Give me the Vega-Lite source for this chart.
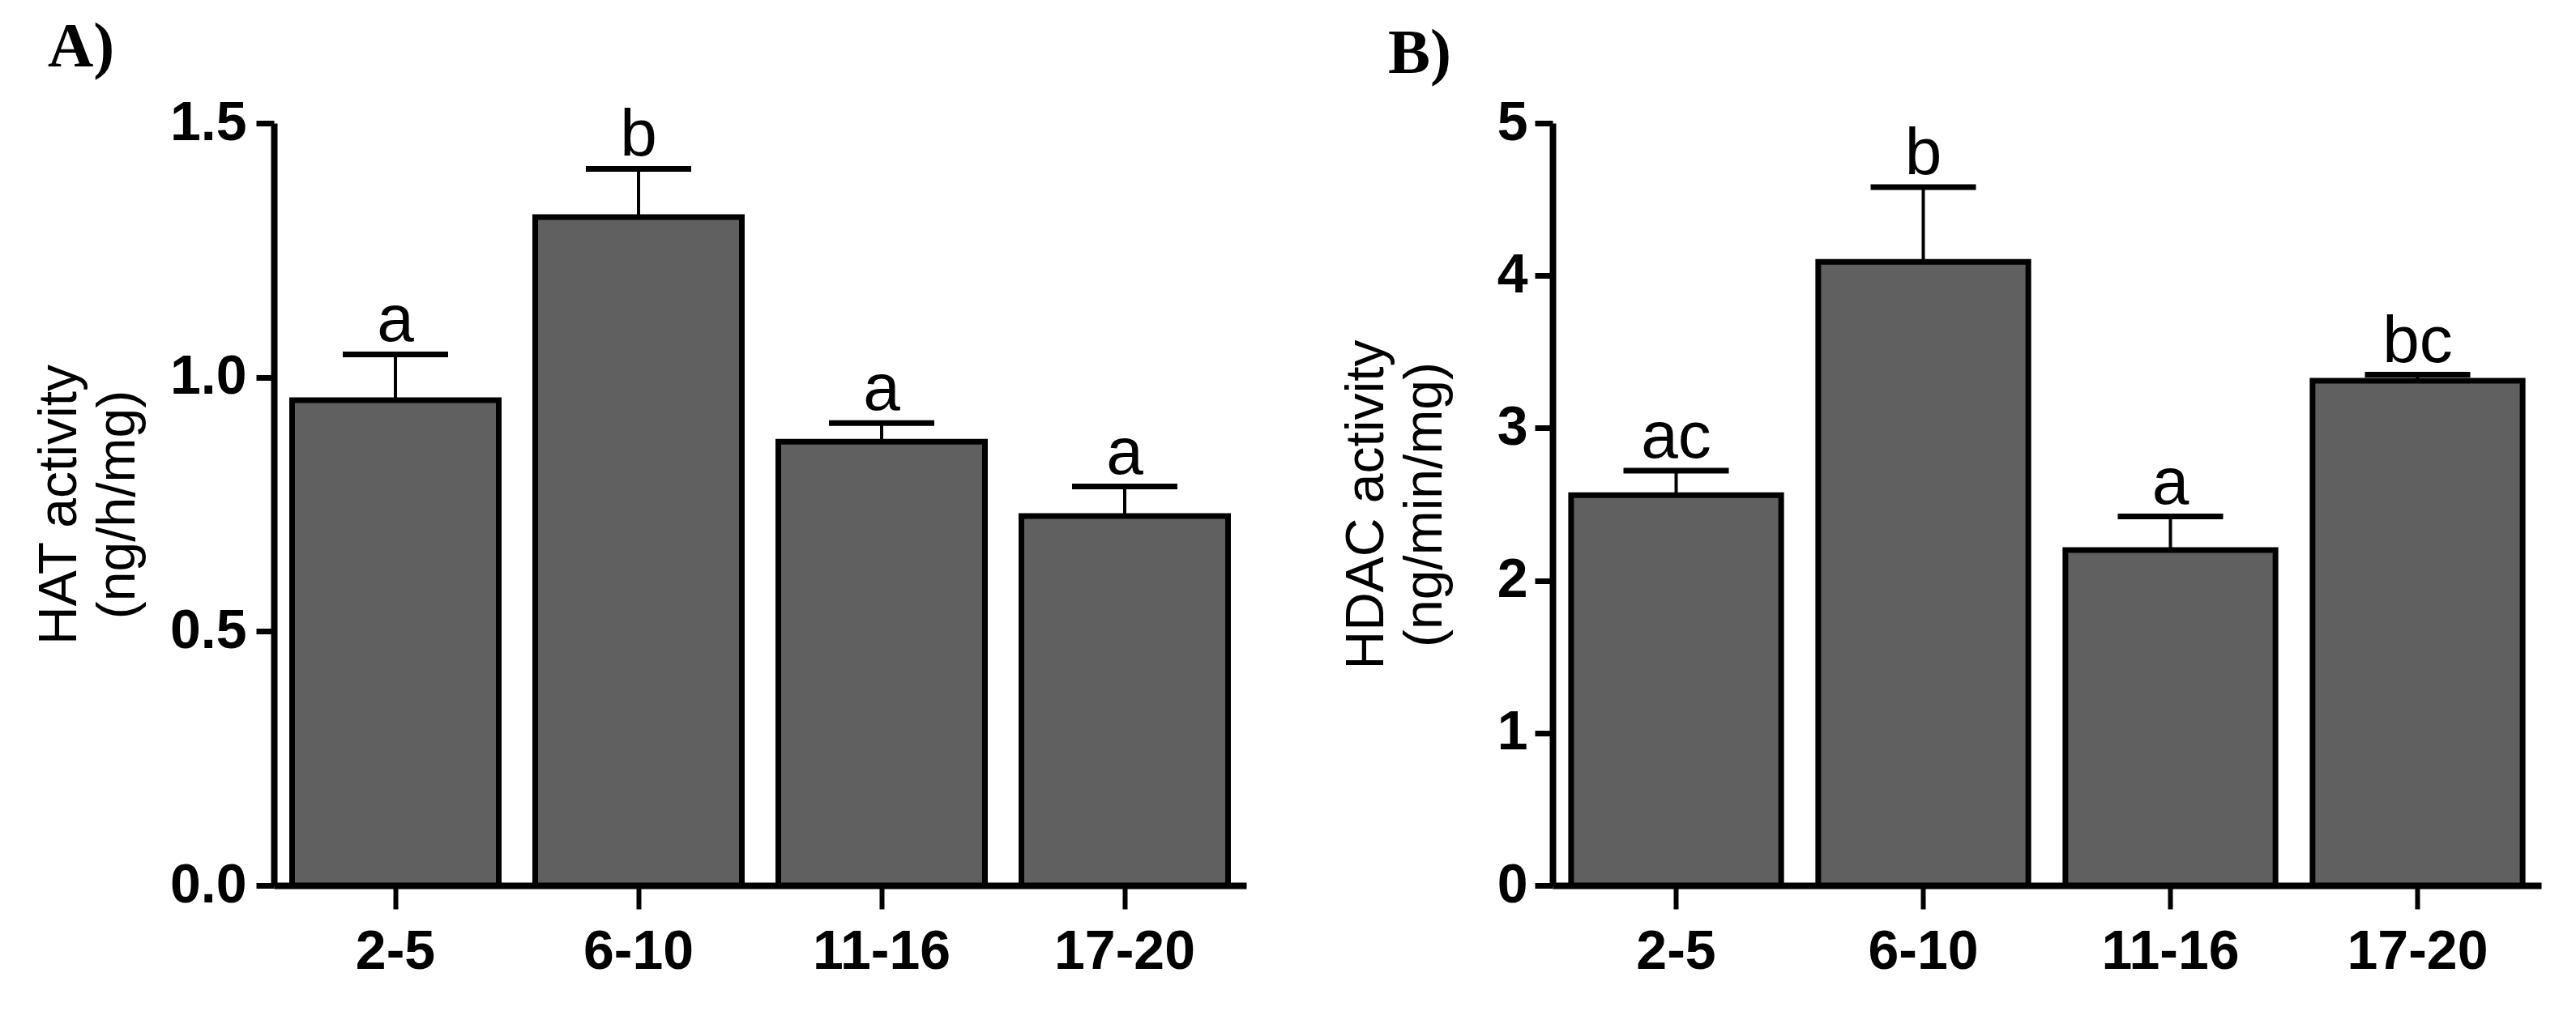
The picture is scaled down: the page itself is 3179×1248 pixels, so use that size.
{
  "$schema": "https://vega.github.io/schema/vega-lite/v6.json",
  "background": "white",
  "padding": {"left": 40, "top": 20, "right": 5, "bottom": 5},
  "bounds": "flush",
  "spacing": 378,
  "config": {
    "view": {"stroke": null},
    "axis": {
      "grid": false,
      "domainColor": "black",
      "domainWidth": 8,
      "tickColor": "black",
      "tickWidth": 7,
      "labelColor": "black",
      "labelFont": "Liberation Sans",
      "labelFontWeight": "bold",
      "labelLimit": 0,
      "titleColor": "black",
      "titleFont": "Liberation Sans",
      "titleFontWeight": "normal"
    },
    "axisX": {"tickSize": 29, "tickWidth": 6, "labelFontSize": 68, "labelPadding": 19, "labelAngle": 0, "title": null},
    "axisY": {"tickSize": 22, "labelFontSize": 68, "titleFontSize": 66, "titleLineHeight": 72},
    "title": {"anchor": "start", "frame": "group", "font": "Liberation Serif", "fontSize": 78, "fontWeight": "bold", "color": "black", "offset": 20}
  },
  "hconcat": [
    {
      "width": 1200,
      "height": 941,
      "title": {"text": "A)", "dx": -279},
      "data": {
        "values": [
          {"group": "2-5", "mean": 0.955, "upper": 1.045, "letter": "a"},
          {"group": "6-10", "mean": 1.315, "upper": 1.41, "letter": "b"},
          {"group": "11-16", "mean": 0.873, "upper": 0.91, "letter": "a"},
          {"group": "17-20", "mean": 0.727, "upper": 0.785, "letter": "a"}
        ]
      },
      "encoding": {
        "x": {
          "field": "group",
          "type": "nominal",
          "sort": null,
          "scale": {"paddingInner": 0.15, "paddingOuter": 0.075},
          "axis": {}
        }
      },
      "layer": [
        {
          "mark": {"type": "bar", "fill": "#606060", "stroke": "black", "strokeWidth": 7},
          "encoding": {
            "y": {
              "field": "mean",
              "type": "quantitative",
              "scale": {"domain": [0, 1.5], "nice": false},
              "axis": {
                "values": [0, 0.5, 1, 1.5],
                "format": ".1f",
                "labelPadding": 12,
                "title": ["HAT activity", "(ng/h/mg)"],
                "titlePadding": 30
              }
            }
          }
        },
        {
          "mark": {"type": "rule", "color": "black", "strokeWidth": 4},
          "encoding": {"y": {"field": "mean", "type": "quantitative"}, "y2": {"field": "upper"}}
        },
        {
          "mark": {"type": "tick", "color": "black", "opacity": 1, "thickness": 7, "size": 130},
          "encoding": {"y": {"field": "upper", "type": "quantitative"}}
        },
        {
          "mark": {"type": "text", "baseline": "alphabetic", "dy": -16, "fontSize": 82, "color": "black", "font": "Liberation Sans"},
          "encoding": {"y": {"field": "upper", "type": "quantitative"}, "text": {"field": "letter"}}
        }
      ]
    },
    {
      "width": 1220,
      "height": 941,
      "title": {"text": "B)", "dx": -203, "dy": 8},
      "data": {
        "values": [
          {"group": "2-5", "mean": 2.56, "upper": 2.72, "letter": "ac"},
          {"group": "6-10", "mean": 4.09, "upper": 4.58, "letter": "b"},
          {"group": "11-16", "mean": 2.2, "upper": 2.42, "letter": "a"},
          {"group": "17-20", "mean": 3.31, "upper": 3.35, "letter": "bc"}
        ]
      },
      "encoding": {
        "x": {
          "field": "group",
          "type": "nominal",
          "sort": null,
          "scale": {"paddingInner": 0.15, "paddingOuter": 0.075},
          "axis": {}
        }
      },
      "layer": [
        {
          "mark": {"type": "bar", "fill": "#606060", "stroke": "black", "strokeWidth": 7},
          "encoding": {
            "y": {
              "field": "mean",
              "type": "quantitative",
              "scale": {"domain": [0, 5], "nice": false},
              "axis": {
                "values": [0, 1, 2, 3, 4, 5],
                "format": "d",
                "labelPadding": 9,
                "title": ["HDAC activity", "(ng/min/mg)"],
                "titlePadding": 55
              }
            }
          }
        },
        {
          "mark": {"type": "rule", "color": "black", "strokeWidth": 4},
          "encoding": {"y": {"field": "mean", "type": "quantitative"}, "y2": {"field": "upper"}}
        },
        {
          "mark": {"type": "tick", "color": "black", "opacity": 1, "thickness": 7, "size": 130},
          "encoding": {"y": {"field": "upper", "type": "quantitative"}}
        },
        {
          "mark": {"type": "text", "baseline": "alphabetic", "dy": -16, "fontSize": 82, "color": "black", "font": "Liberation Sans"},
          "encoding": {"y": {"field": "upper", "type": "quantitative"}, "text": {"field": "letter"}}
        }
      ]
    }
  ]
}
